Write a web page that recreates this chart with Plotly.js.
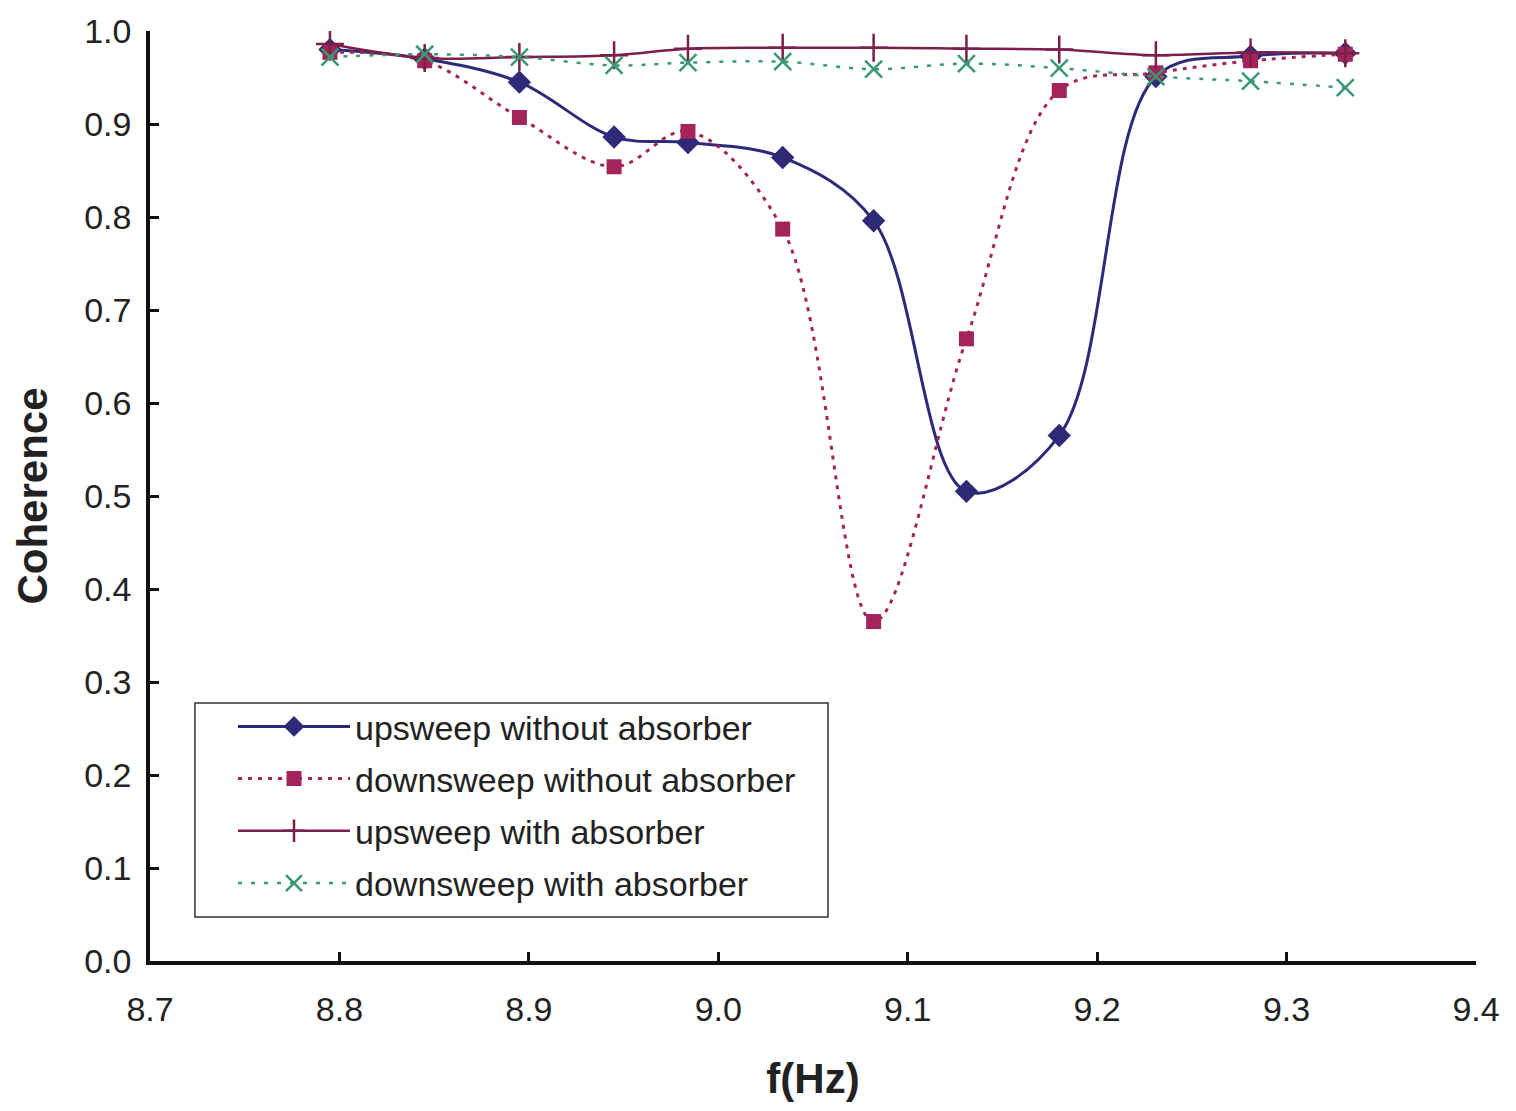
<!DOCTYPE html>
<html>
<head>
<meta charset="utf-8">
<script src="https://cdn.plot.ly/plotly-3.0.1.min.js"></script>
<style>html,body{margin:0;padding:0;background:#fff;}#chart{width:1516px;height:1111px;}</style>
</head>
<body>
<div id="chart"></div>
<script>
// Frequency (Hz)
const freq = [8.795, 8.845, 8.895, 8.945, 8.984, 9.034, 9.082, 9.131, 9.180, 9.231, 9.281, 9.331];
// Coherence values
const upNoAbs   = [0.980, 0.970, 0.945, 0.886, 0.880, 0.864, 0.796, 0.505, 0.565, 0.951, 0.973, 0.976];
const downNoAbs = [0.977, 0.968, 0.907, 0.854, 0.892, 0.787, 0.365, 0.669, 0.936, 0.955, 0.968, 0.975];
const upAbs     = [0.986, 0.971, 0.972, 0.974, 0.981, 0.982, 0.982, 0.981, 0.980, 0.974, 0.977, 0.976];
const downAbs   = [0.972, 0.975, 0.972, 0.963, 0.966, 0.967, 0.959, 0.965, 0.960, 0.951, 0.946, 0.939];
const names = ["upsweep without absorber", "downsweep without absorber", "upsweep with absorber", "downsweep with absorber"];
const xTicks = [8.7, 8.8, 8.9, 9.0, 9.1, 9.2, 9.3, 9.4];
const yTicks = [0.0, 0.1, 0.2, 0.3, 0.4, 0.5, 0.6, 0.7, 0.8, 0.9, 1.0];

const font = "Liberation Sans, Arial, sans-serif";
const traces = [
  {x: freq, y: upNoAbs, name: names[0], legendgroup: "a", mode: "lines+markers",
   line: {color: "#2e2a78", width: 3, shape: "spline", smoothing: 1},
   marker: {symbol: "diamond", size: 18, color: "#2e2a78"}},
  {x: freq, y: downNoAbs, name: names[1], legendgroup: "b", mode: "lines+markers",
   line: {color: "#a3245a", width: 3, dash: "4px,6px", shape: "spline", smoothing: 1},
   marker: {symbol: "square", size: 15, color: "#a3245a"}},
  {x: freq, y: upAbs, name: names[2], legendgroup: "c", mode: "lines+markers",
   line: {color: "#7c1f4a", width: 2.5, shape: "spline", smoothing: 1},
   marker: {symbol: "cross-thin-open", size: 20, line: {color: "#7c1f4a", width: 2.5}}},
  {x: freq, y: downAbs, name: names[3], legendgroup: "d", mode: "lines+markers",
   line: {color: "#3a9872", width: 2.5, dash: "4px,9px", shape: "spline", smoothing: 1},
   marker: {symbol: "x-thin-open", size: 17, line: {color: "#3a9872", width: 2.5}}}
];

const layout = {
  width: 1516, height: 1111,
  margin: {l: 150, r: 40, t: 31, b: 150},
  paper_bgcolor: "#fff", plot_bgcolor: "#fff",
  font: {family: font, color: "#222", size: 34},
  showlegend: true,
  legend: {x: 0.0626, y: 0.283, xanchor: "left", yanchor: "top",
    borderwidth: 0, bgcolor: "rgba(0,0,0,0)",
    font: {family: font, size: 34, color: "#222"}, tracegroupgap: 5, itemwidth: 112},
  shapes: [{type: "rect", xref: "paper", yref: "paper", x0: 0.0339, x1: 0.5113, y0: 0.0473, y1: 0.2774,
    line: {color: "#333", width: 1.5}, fillcolor: "rgba(0,0,0,0)", layer: "below"}],
  xaxis: {range: [8.7, 9.4], tickvals: xTicks, ticktext: xTicks.map(v => v.toFixed(1)),
    ticks: "inside", ticklen: 9, tickwidth: 2.5, tickcolor: "#111",
    showline: true, linecolor: "#111", linewidth: 3.5, showgrid: false, zeroline: false,
    ticklabelstandoff: 15,
    tickfont: {family: font, size: 34, color: "#222"},
    title: {text: "<b>f(Hz)</b>", font: {family: font, size: 42, color: "#222"}, standoff: 38}},
  yaxis: {range: [0, 1.0], tickvals: yTicks, ticktext: yTicks.map(v => v.toFixed(1)),
    ticks: "inside", ticklen: 9, tickwidth: 2.5, tickcolor: "#111",
    showline: true, linecolor: "#111", linewidth: 3.5, showgrid: false, zeroline: false,
    ticklabelstandoff: 8,
    tickfont: {family: font, size: 34, color: "#222"},
    title: {text: "<b>Coherence</b>", font: {family: font, size: 42, color: "#222"}, standoff: 24}}
};

Plotly.newPlot("chart", traces, layout, {displayModeBar: false, responsive: false});
</script>
</body>
</html>
